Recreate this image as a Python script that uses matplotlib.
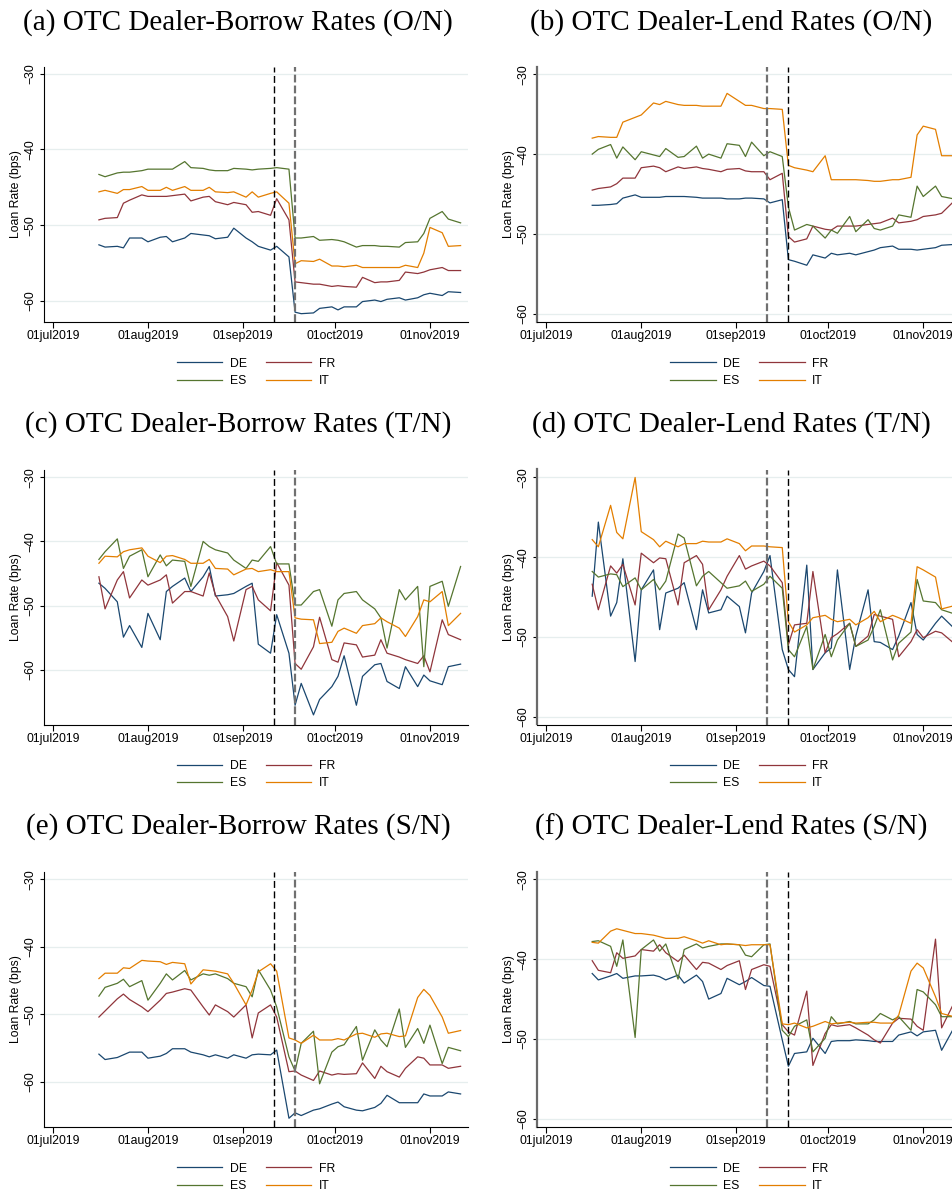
import pandas as pd
import matplotlib
matplotlib.use('Agg')
import matplotlib.pyplot as plt
import matplotlib.dates as mdates

plt.rcParams['font.family'] = ['Liberation Sans', 'DejaVu Sans']

# every second business day, 16 Jul - 11 Nov 2019
dates = pd.to_datetime([
    '2019-07-16', '2019-07-18', '2019-07-22', '2019-07-24', '2019-07-26', '2019-07-30',
    '2019-08-01', '2019-08-05', '2019-08-07', '2019-08-09', '2019-08-13', '2019-08-15',
    '2019-08-19', '2019-08-21', '2019-08-23', '2019-08-27', '2019-08-29',
    '2019-09-02', '2019-09-04', '2019-09-06', '2019-09-10', '2019-09-12', '2019-09-16',
    '2019-09-18', '2019-09-20', '2019-09-24', '2019-09-26', '2019-09-30',
    '2019-10-02', '2019-10-04', '2019-10-08', '2019-10-10', '2019-10-14', '2019-10-16',
    '2019-10-18', '2019-10-22', '2019-10-24', '2019-10-28', '2019-10-30',
    '2019-11-01', '2019-11-05', '2019-11-07', '2019-11-11'])

# (a) dealer-borrow O/N
a_de = [-52.6, -52.9, -52.8, -53.0, -51.7, -51.7, -52.2, -51.6, -51.5, -52.2,
        -51.7, -51.1, -51.3, -51.4, -51.8, -51.6, -50.4, -51.7, -52.2, -52.8,
        -53.3, -52.8, -54.2, -61.5, -61.7, -61.6, -61.0, -60.8, -61.2, -60.8,
        -60.8, -60.1, -59.9, -60.1, -59.8, -59.6, -59.9, -59.6, -59.2, -59.0,
        -59.3, -58.8, -58.9]
a_fr = [-49.3, -49.1, -49.0, -47.1, -46.7, -46.0, -46.2, -46.2, -46.2, -46.1,
        -45.9, -46.8, -46.3, -46.2, -46.9, -47.3, -47.0, -47.3, -48.3, -48.2,
        -48.7, -46.5, -49.3, -57.5, -57.6, -57.8, -57.8, -58.1, -58.0, -58.1,
        -58.2, -56.9, -57.6, -57.5, -57.5, -57.3, -56.2, -56.4, -56.2, -55.9,
        -55.6, -56.0, -56.0]
a_es = [-43.3, -43.6, -43.1, -43.0, -43.0, -42.8, -42.6, -42.6, -42.6, -42.6,
        -41.6, -42.4, -42.5, -42.7, -42.8, -42.8, -42.5, -42.6, -42.7, -42.6,
        -42.5, -42.4, -42.6, -51.7, -51.7, -51.5, -52.0, -51.9, -52.0, -52.2,
        -52.9, -52.7, -52.7, -52.8, -52.8, -52.9, -52.3, -52.2, -51.1, -49.1,
        -48.2, -49.2, -49.7]
a_it = [-45.6, -45.4, -45.8, -45.3, -45.3, -44.9, -45.4, -45.4, -45.0, -45.4,
        -44.9, -45.4, -45.4, -45.0, -45.6, -45.7, -45.6, -46.3, -45.6, -46.3,
        -45.8, -45.6, -47.1, -55.1, -54.7, -54.8, -54.5, -55.4, -55.4, -55.5,
        -55.3, -55.6, -55.6, -55.6, -55.6, -55.6, -55.3, -55.6, -53.7, -50.3,
        -51.0, -52.8, -52.7]

# (b) dealer-lend O/N
b_de = [-46.4, -46.4, -46.3, -46.2, -45.5, -45.1, -45.4, -45.4, -45.4, -45.3,
        -45.3, -45.3, -45.4, -45.5, -45.5, -45.5, -45.6, -45.6, -45.5, -45.5,
        -45.6, -46.1, -45.7, -53.2, -53.4, -53.9, -52.6, -53.0, -52.4, -52.6,
        -52.4, -52.6, -52.2, -52.0, -51.7, -51.5, -51.9, -51.9, -52.0, -51.9,
        -51.7, -51.4, -51.3]
b_fr = [-44.5, -44.3, -44.1, -43.7, -43.0, -43.0, -41.7, -41.5, -41.7, -42.2,
        -41.6, -41.8, -41.6, -41.8, -41.9, -42.2, -41.9, -41.8, -42.1, -42.2,
        -42.2, -43.2, -42.4, -50.3, -51.0, -50.6, -49.0, -49.4, -49.5, -49.0,
        -49.0, -49.0, -48.8, -48.7, -48.6, -48.0, -48.6, -48.4, -48.2, -47.8,
        -47.6, -47.4, -45.9]
b_es = [-40.0, -39.4, -38.8, -40.5, -39.1, -40.7, -39.7, -40.1, -40.3, -39.3,
        -40.4, -40.3, -39.0, -40.5, -40.0, -40.5, -38.7, -38.9, -40.3, -38.5,
        -40.2, -39.7, -40.3, -46.6, -49.5, -48.8, -49.0, -50.5, -49.5, -49.9,
        -47.8, -49.7, -48.2, -49.3, -49.5, -49.0, -47.6, -47.9, -44.0, -45.3,
        -44.0, -45.3, -45.6]
b_it = [-38.0, -37.8, -37.9, -37.9, -36.0, -35.4, -35.1, -33.6, -33.8, -33.4,
        -33.8, -33.9, -33.9, -34.0, -34.0, -34.0, -32.4, -33.4, -33.9, -33.9,
        -34.3, -34.3, -34.4, -41.4, -41.7, -42.0, -42.2, -40.2, -43.2, -43.2,
        -43.2, -43.2, -43.3, -43.4, -43.4, -43.2, -43.2, -42.9, -37.6, -36.5,
        -36.9, -40.2, -40.2]

# (c) dealer-borrow T/N
c_de = [-46.5, -47.3, -49.4, -54.9, -53.1, -56.5, -51.2, -55.3, -47.8, -47.0,
        -45.7, -47.8, -45.5, -43.9, -48.5, -48.3, -48.1, -47.0, -46.5, -56.0,
        -57.4, -51.4, -57.4, -65.5, -62.1, -67.0, -64.6, -62.6, -61.0, -57.8,
        -65.5, -61.0, -59.2, -59.0, -61.8, -62.9, -59.5, -62.6, -60.8, -61.7,
        -62.3, -59.5, -59.1]
c_fr = [-45.5, -50.5, -46.0, -44.7, -48.8, -46.0, -46.8, -46.0, -45.2, -49.6,
        -47.8, -47.8, -48.5, -44.9, -48.3, -51.7, -55.5, -47.5, -47.0, -49.1,
        -50.8, -43.3, -46.8, -59.0, -59.9, -56.4, -51.8, -58.4, -58.8, -55.8,
        -56.1, -58.0, -57.7, -55.3, -57.4, -58.0, -58.4, -59.0, -57.8, -60.3,
        -52.2, -54.5, -55.3]
c_es = [-42.8, -41.6, -39.6, -44.2, -42.3, -41.3, -45.5, -42.1, -43.8, -42.9,
        -43.1, -47.0, -40.0, -40.8, -41.3, -41.8, -42.9, -44.2, -42.9, -43.1,
        -40.8, -43.5, -43.5, -49.9, -49.9, -47.8, -47.5, -53.2, -49.1, -48.1,
        -47.8, -49.1, -50.5, -51.9, -56.6, -47.5, -49.1, -47.0, -59.5, -47.0,
        -46.2, -50.1, -43.9]
c_it = [-43.4, -42.3, -42.4, -41.6, -41.3, -41.0, -42.3, -43.3, -42.3, -42.2,
        -42.8, -43.4, -43.4, -42.8, -44.2, -44.3, -45.2, -44.3, -44.2, -44.7,
        -44.4, -44.7, -44.7, -51.9, -52.1, -52.2, -55.9, -55.7, -54.0, -53.5,
        -54.3, -53.1, -52.8, -51.9, -52.5, -53.5, -54.8, -51.7, -49.1, -49.4,
        -47.8, -53.1, -51.2]

# (d) dealer-lend T/N
d_de = [-44.9, -35.6, -47.4, -45.7, -40.2, -53.1, -44.1, -41.6, -49.1, -44.5,
        -43.9, -43.2, -49.1, -44.1, -47.0, -46.6, -44.9, -46.2, -49.5, -44.5,
        -41.8, -39.8, -51.6, -54.1, -55.0, -41.0, -54.1, -52.0, -51.4, -41.6,
        -54.1, -49.9, -44.1, -50.6, -50.7, -51.6, -49.9, -45.7, -49.7, -50.4,
        -48.3, -47.4, -48.9]
d_fr = [-43.4, -46.6, -41.1, -42.0, -40.9, -46.0, -39.5, -40.7, -40.1, -40.2,
        -46.0, -40.7, -39.8, -40.9, -46.6, -44.1, -42.4, -39.8, -41.5, -41.1,
        -40.5, -41.1, -43.2, -51.0, -48.5, -48.3, -41.8, -52.0, -50.1, -49.6,
        -48.3, -51.2, -49.9, -47.2, -47.4, -47.8, -52.5, -50.6, -49.1, -50.1,
        -49.3, -49.5, -50.8]
d_es = [-41.8, -42.5, -42.1, -42.2, -43.7, -42.6, -44.1, -42.8, -44.1, -43.0,
        -37.1, -37.6, -43.6, -42.4, -41.8, -43.2, -43.9, -43.6, -43.0, -44.3,
        -43.4, -42.4, -43.9, -51.6, -52.5, -48.7, -54.1, -49.7, -52.5, -50.4,
        -48.3, -51.2, -50.4, -48.7, -46.6, -52.9, -50.8, -49.4, -42.8, -45.5,
        -45.7, -46.6, -47.1]
d_it = [-37.8, -38.7, -33.5, -36.9, -37.7, -30.0, -36.8, -37.8, -38.7, -38.0,
        -38.7, -38.3, -38.3, -38.0, -38.1, -38.1, -37.7, -38.3, -39.2, -38.6,
        -38.6, -38.7, -38.8, -48.1, -49.4, -48.5, -47.6, -47.3, -47.8, -48.1,
        -47.8, -48.5, -47.6, -46.8, -48.1, -47.3, -47.6, -48.3, -41.2, -41.6,
        -42.5, -46.5, -46.1]

# (e) dealer-borrow S/N
e_de = [-55.9, -56.7, -56.4, -56.0, -55.6, -55.6, -56.5, -56.2, -55.8, -55.1,
        -55.1, -55.6, -56.0, -56.3, -56.0, -56.5, -56.0, -56.5, -56.0, -55.9,
        -56.0, -55.3, -65.4, -64.6, -65.0, -64.2, -64.0, -63.3, -63.0, -63.7,
        -64.2, -64.3, -63.8, -63.2, -62.0, -63.1, -63.1, -63.1, -61.8, -62.1,
        -62.1, -61.5, -61.8]
e_fr = [-50.4, -49.5, -47.7, -47.0, -47.8, -48.9, -49.6, -47.9, -46.9, -46.7,
        -46.2, -46.4, -48.9, -50.1, -48.6, -49.6, -50.4, -48.6, -53.5, -49.8,
        -48.6, -50.4, -58.5, -58.4, -59.0, -59.8, -58.4, -59.0, -58.8, -58.9,
        -58.8, -57.2, -59.5, -57.7, -58.5, -59.3, -58.0, -56.3, -56.5, -57.5,
        -57.5, -58.0, -57.7]
e_es = [-47.3, -46.0, -45.4, -44.8, -45.9, -45.0, -47.9, -45.4, -44.0, -44.9,
        -43.5, -44.9, -44.0, -44.2, -44.0, -44.7, -45.4, -45.9, -47.4, -43.4,
        -46.4, -48.9, -56.3, -58.4, -54.3, -52.5, -60.3, -55.6, -54.8, -54.5,
        -51.8, -56.8, -52.3, -53.8, -54.8, -49.2, -54.9, -52.1, -54.3, -51.6,
        -57.3, -54.9, -55.4]
e_it = [-44.7, -43.9, -43.9, -43.1, -43.2, -42.0, -42.1, -42.2, -42.6, -42.3,
        -42.5, -45.5, -43.4, -43.5, -43.6, -44.0, -45.4, -48.6, -46.4, -43.7,
        -42.5, -43.6, -53.5, -53.8, -54.3, -53.1, -53.8, -53.8, -53.6, -53.8,
        -52.9, -52.8, -53.4, -52.9, -52.8, -53.3, -53.2, -47.5, -46.3, -47.2,
        -50.4, -52.8, -52.4]

# (f) dealer-lend S/N
f_de = [-41.8, -42.6, -42.1, -41.8, -42.4, -42.1, -42.1, -42.0, -42.2, -42.6,
        -42.0, -43.0, -42.0, -42.8, -45.0, -44.3, -42.4, -43.2, -42.8, -42.3,
        -43.3, -43.4, -50.1, -53.4, -51.8, -51.6, -49.9, -51.8, -50.3, -50.2,
        -50.2, -50.1, -50.2, -50.3, -50.3, -50.3, -49.5, -49.1, -49.6, -49.1,
        -48.9, -51.4, -48.6]
f_fr = [-40.2, -41.4, -41.7, -39.2, -39.9, -39.6, -38.8, -39.0, -38.2, -39.2,
        -40.3, -39.5, -41.3, -40.4, -40.5, -41.3, -40.8, -40.2, -43.8, -41.3,
        -40.7, -40.9, -48.2, -49.1, -49.5, -44.0, -53.3, -49.3, -48.2, -48.4,
        -48.2, -48.6, -49.5, -50.1, -50.5, -48.0, -47.4, -47.5, -48.4, -48.9,
        -37.5, -48.6, -45.5]
f_es = [-37.8, -37.7, -38.4, -40.9, -37.6, -49.8, -38.8, -37.6, -39.0, -38.1,
        -42.5, -38.8, -38.1, -38.6, -38.4, -38.1, -38.1, -38.2, -39.5, -39.7,
        -38.2, -38.1, -48.9, -49.7, -48.4, -47.6, -51.6, -49.9, -47.2, -48.1,
        -47.8, -48.1, -48.1, -47.6, -46.8, -47.6, -47.2, -48.9, -43.8, -44.1,
        -45.7, -47.2, -47.2]
f_it = [-37.9, -38.0, -36.5, -36.2, -36.4, -36.8, -36.8, -37.0, -37.2, -37.4,
        -37.4, -37.2, -37.7, -38.0, -37.7, -38.2, -38.1, -38.2, -38.3, -38.2,
        -38.2, -38.2, -48.1, -48.2, -48.0, -48.6, -48.4, -47.8, -48.1, -48.0,
        -47.9, -48.0, -47.9, -47.9, -48.0, -48.0, -47.0, -41.5, -40.5, -41.1,
        -44.7, -46.8, -47.2]

titles = ['(a) OTC Dealer-Borrow Rates (O/N)', '(b) OTC Dealer-Lend Rates (O/N)',
          '(c) OTC Dealer-Borrow Rates (T/N)', '(d) OTC Dealer-Lend Rates (T/N)',
          '(e) OTC Dealer-Borrow Rates (S/N)', '(f) OTC Dealer-Lend Rates (S/N)']
series = [(a_de, a_fr, a_es, a_it), (b_de, b_fr, b_es, b_it),
          (c_de, c_fr, c_es, c_it), (d_de, d_fr, d_es, d_it),
          (e_de, e_fr, e_es, e_it), (f_de, f_fr, f_es, f_it)]
ylims = [(-62.8, -29.1), (-61.0, -29.1), (-68.5, -28.8),
         (-61.0, -29.0), (-66.7, -28.9), (-61.0, -29.1)]
names = ['DE', 'FR', 'ES', 'IT']
colors = ['#1a476f', '#90353b', '#55752f', '#e37e00']
event1 = pd.Timestamp('2019-09-11')
event2 = pd.Timestamp('2019-09-18')
xticks = pd.to_datetime(['2019-07-01', '2019-08-01', '2019-09-01', '2019-10-01', '2019-11-01'])

W, H = 953, 1191
fig = plt.figure(figsize=(W / 100, H / 100), dpi=100)

col_left = [44, 537.3]
col_mid = [238, 731]
row_top = [67, 469.5, 872]
title_y = [23, 425, 827]
ax_w, ax_h = 424, 255

for i in range(6):
    r, c = i // 2, i % 2
    ax = fig.add_axes([col_left[c] / W, 1 - (row_top[r] + ax_h) / H, ax_w / W, ax_h / H])
    handles = []
    for vals, nm, col in zip(series[i], names, colors):
        h, = ax.plot(dates, vals, color=col, lw=0.9, label=nm)
        handles.append(h)

    # event lines (black / grey swap between columns)
    blk = dict(color='black', lw=1.0, ls=(0, (5, 2.5)))
    gry = dict(color='#707070', lw=1.6, ls=(0, (3.5, 1.4)))
    if c == 0:
        ax.axvline(event1, **blk)
        ax.axvline(event2, **gry)
    else:
        ax.axvline(event1, **gry)
        ax.axvline(event2, **blk)

    ax.set_xlim(pd.Timestamp('2019-06-28 02:00'), pd.Timestamp('2019-11-13 10:00'))
    ax.set_ylim(*ylims[i])
    ax.set_xticks(xticks)
    ax.set_xticklabels([d.strftime('%d%b%Y').lower() for d in xticks])
    ax.set_yticks([-60, -50, -40, -30])
    ax.yaxis.grid(True, color='#e6eeee', lw=0.9)
    ax.set_axisbelow(True)
    ax.tick_params(axis='x', length=4.3, width=0.8, pad=1.5, labelsize=8.8)
    ax.tick_params(axis='y', length=3, width=0.8, pad=2.5, labelsize=8.8, labelrotation=90)
    for lab in ax.get_yticklabels():
        lab.set_va('center')
    ax.spines['top'].set_visible(False)
    ax.spines['right'].set_visible(False)
    ax.spines['bottom'].set_linewidth(0.8)
    if c == 0:
        ax.spines['left'].set_linewidth(0.8)
    else:
        ax.spines['left'].set_color('#6a6a6a')
        ax.spines['left'].set_linewidth(1.6)
    ax.set_ylabel('Loan Rate (bps)', fontsize=8.8, labelpad=2)

    ax.legend([handles[0], handles[2], handles[1], handles[3]], ['DE', 'ES', 'FR', 'IT'],
              ncol=2, loc='upper center', bbox_to_anchor=(0.5, -0.14), frameon=False,
              fontsize=8.8, handlelength=3.7, handletextpad=0.6, columnspacing=1.6,
              labelspacing=0.42, borderaxespad=0, borderpad=0)

    fig.text(col_mid[c] / W, 1 - title_y[r] / H, titles[i], ha='center', va='center',
             fontsize=21, family='Liberation Serif')

fig.savefig('out.png', dpi=100)
